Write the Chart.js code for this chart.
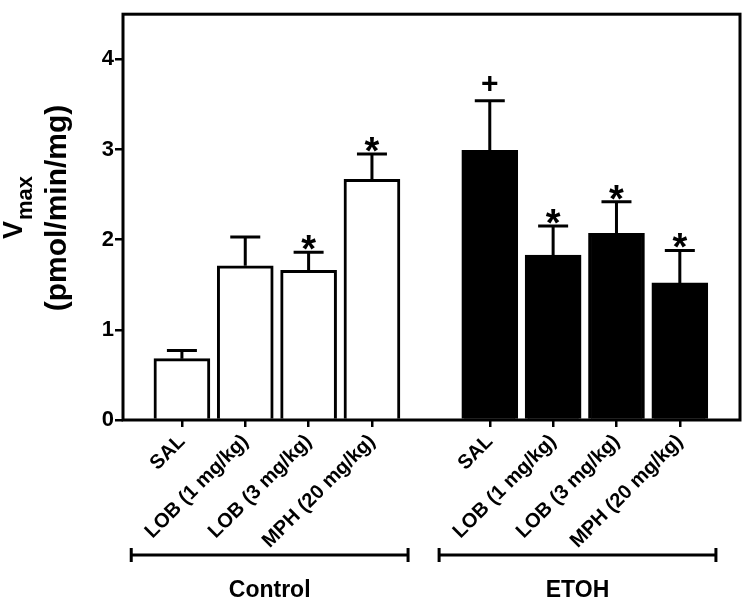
<!DOCTYPE html>
<html>
<head>
<meta charset="utf-8">
<script src="https://cdn.jsdelivr.net/npm/chart.js@4.4.1/dist/chart.umd.min.js"></script>
<style>
  html, body { margin: 0; padding: 0; background: #ffffff; }
  #wrap { width: 750px; height: 606px; position: relative; }
</style>
</head>
<body>
<div id="wrap"><canvas id="c"></canvas></div>
<script>
// ---- data ----
const groups = ['Control', 'ETOH'];
const treatments = ['SAL', 'LOB (1 mg/kg)', 'LOB (3 mg/kg)', 'MPH (20 mg/kg)'];
const controlMeans = [0.68, 1.71, 1.66, 2.67];
const controlSEM   = [0.09, 0.32, 0.20, 0.28];
const etohMeans    = [2.99, 1.83, 2.07, 1.52];
const etohSEM      = [0.55, 0.32, 0.35, 0.36];
const controlMarks = ['', '', '*', '*'];
const etohMarks    = ['+', '*', '*', '*'];
const yTicks = [0, 1, 2, 3, 4];
const yTitleMain = 'V';
const yTitleSub = 'max';
const yTitleUnit = '(pmol/min/mg)';

// ---- derived tables ----
const GROUP_GAP = 0.86;            // extra slot space between groups
const FONT = "'Liberation Sans', Arial, sans-serif";
const means = controlMeans.concat(etohMeans);
const sems = controlSEM.concat(etohSEM);
const marks = controlMarks.concat(etohMarks);
const tickLabels = treatments.concat(treatments);
const groupOf = means.map((_, i) => Math.floor(i / treatments.length));
const positions = means.map((_, i) => groupOf[i] * (treatments.length + GROUP_GAP) + (i % treatments.length));
const points = positions.map((x, i) => ({ x: x, y: means[i] }));
const fills = groupOf.map(g => g === 0 ? '#ffffff' : '#000000');

const decorPlugin = {
  id: 'decor',
  afterDatasetsDraw(chart) {
    const ctx = chart.ctx;
    const ys = chart.scales.y;
    const ca = chart.chartArea;
    const meta = chart.getDatasetMeta(0);
    ctx.save();
    ctx.strokeStyle = '#000';
    ctx.fillStyle = '#000';
    ctx.lineWidth = 3;
    ctx.lineCap = 'butt';
    // error bars (upper only) and significance marks
    meta.data.forEach((bar, i) => {
      const x = bar.x;
      const yTop = ys.getPixelForValue(means[i]);
      const yCap = ys.getPixelForValue(means[i] + sems[i]);
      ctx.beginPath();
      ctx.moveTo(x, yTop);
      ctx.lineTo(x, yCap);
      ctx.moveTo(x - 15, yCap);
      ctx.lineTo(x + 15, yCap);
      ctx.stroke();
      if (marks[i]) {
        ctx.textAlign = 'center';
        ctx.textBaseline = 'alphabetic';
        if (marks[i] === '*') {
          ctx.font = 'bold 38px ' + FONT;
          ctx.fillText('*', x, yCap + 10);
        } else {
          ctx.font = 'bold 30px ' + FONT;
          ctx.fillText(marks[i], x, yCap - 8);
        }
      }
    });
    // frame
    ctx.lineWidth = 3;
    ctx.strokeRect(ca.left, ca.top, ca.right - ca.left, ca.bottom - ca.top);
    ctx.restore();
  },
  afterDraw(chart) {
    const ctx = chart.ctx;
    const xs = chart.scales.x;
    ctx.save();
    ctx.strokeStyle = '#000';
    ctx.fillStyle = '#000';
    ctx.lineWidth = 3;
    // group brackets and names
    const yB = 555;
    groups.forEach((g, gi) => {
      const idx = positions.filter((_, i) => groupOf[i] === gi);
      const x0 = xs.getPixelForValue(idx[0] - 0.8);
      const x1 = xs.getPixelForValue(idx[idx.length - 1] + 0.57);
      ctx.beginPath();
      ctx.moveTo(x0, yB); ctx.lineTo(x1, yB);
      ctx.moveTo(x0, yB - 7); ctx.lineTo(x0, yB + 7);
      ctx.moveTo(x1, yB - 7); ctx.lineTo(x1, yB + 7);
      ctx.stroke();
      ctx.font = 'bold 23px ' + FONT;
      ctx.textAlign = 'center';
      ctx.textBaseline = 'middle';
      ctx.fillText(g, (x0 + x1) / 2, 591);
    });
    // y-axis title with subscript
    ctx.save();
    ctx.translate(58, 208);
    ctx.rotate(-Math.PI / 2);
    ctx.font = 'bold 30px ' + FONT;
    ctx.textAlign = 'center';
    ctx.textBaseline = 'middle';
    ctx.fillText(yTitleUnit, 0, 0);
    ctx.restore();
    ctx.save();
    ctx.translate(22, 208);
    ctx.rotate(-Math.PI / 2);
    ctx.textAlign = 'left';
    ctx.textBaseline = 'alphabetic';
    ctx.font = 'bold 27px ' + FONT;
    const wV = ctx.measureText(yTitleMain).width;
    ctx.font = 'bold 22px ' + FONT;
    const wS = ctx.measureText(yTitleSub).width;
    const start = -(wV + wS) / 2;
    ctx.font = 'bold 27px ' + FONT;
    ctx.fillText(yTitleMain, start, 0);
    ctx.font = 'bold 22px ' + FONT;
    ctx.fillText(yTitleSub, start + wV + 1, 10);
    ctx.restore();
    ctx.restore();
  }
};

new Chart(document.getElementById('c'), {
  type: 'bar',
  data: {
    datasets: [{
      data: points,
      backgroundColor: fills,
      borderColor: '#000000',
      borderWidth: 3,
      borderSkipped: 'bottom',
      barThickness: 56
    }]
  },
  options: {
    responsive: true,
    maintainAspectRatio: false,
    animation: false,
    layout: { padding: { top: 9, right: 10, left: 0, bottom: 0 } },
    plugins: { legend: { display: false }, tooltip: { enabled: false } },
    scales: {
      x: {
        type: 'linear',
        offset: false,
        min: -0.93,
        max: 8.81,
        grid: { display: true, drawOnChartArea: false, offset: false, color: '#000', lineWidth: 2.5, tickLength: 7 },
        border: { display: false },
        afterBuildTicks(scale) { scale.ticks = positions.map(v => ({ value: v })); },
        afterFit(scale) { scale.height = 186; },
        ticks: {
          autoSkip: false,
          minRotation: 45,
          maxRotation: 45,
          padding: 3,
          color: '#000',
          font: { family: FONT, size: 20, weight: 'bold' },
          callback: (v, i) => tickLabels[i]
        }
      },
      y: {
        min: 0,
        max: 4.5,
        grid: { display: true, drawOnChartArea: false, color: '#000', lineWidth: 2.5, tickLength: 8 },
        border: { display: false },
        afterBuildTicks(scale) { scale.ticks = yTicks.map(v => ({ value: v })); },
        afterFit(scale) { scale.width = 123; },
        ticks: {
          padding: 1,
          color: '#000',
          font: { family: FONT, size: 22, weight: 'bold' },
          callback: v => String(v)
        }
      }
    }
  },
  plugins: [decorPlugin]
});
</script>
</body>
</html>
